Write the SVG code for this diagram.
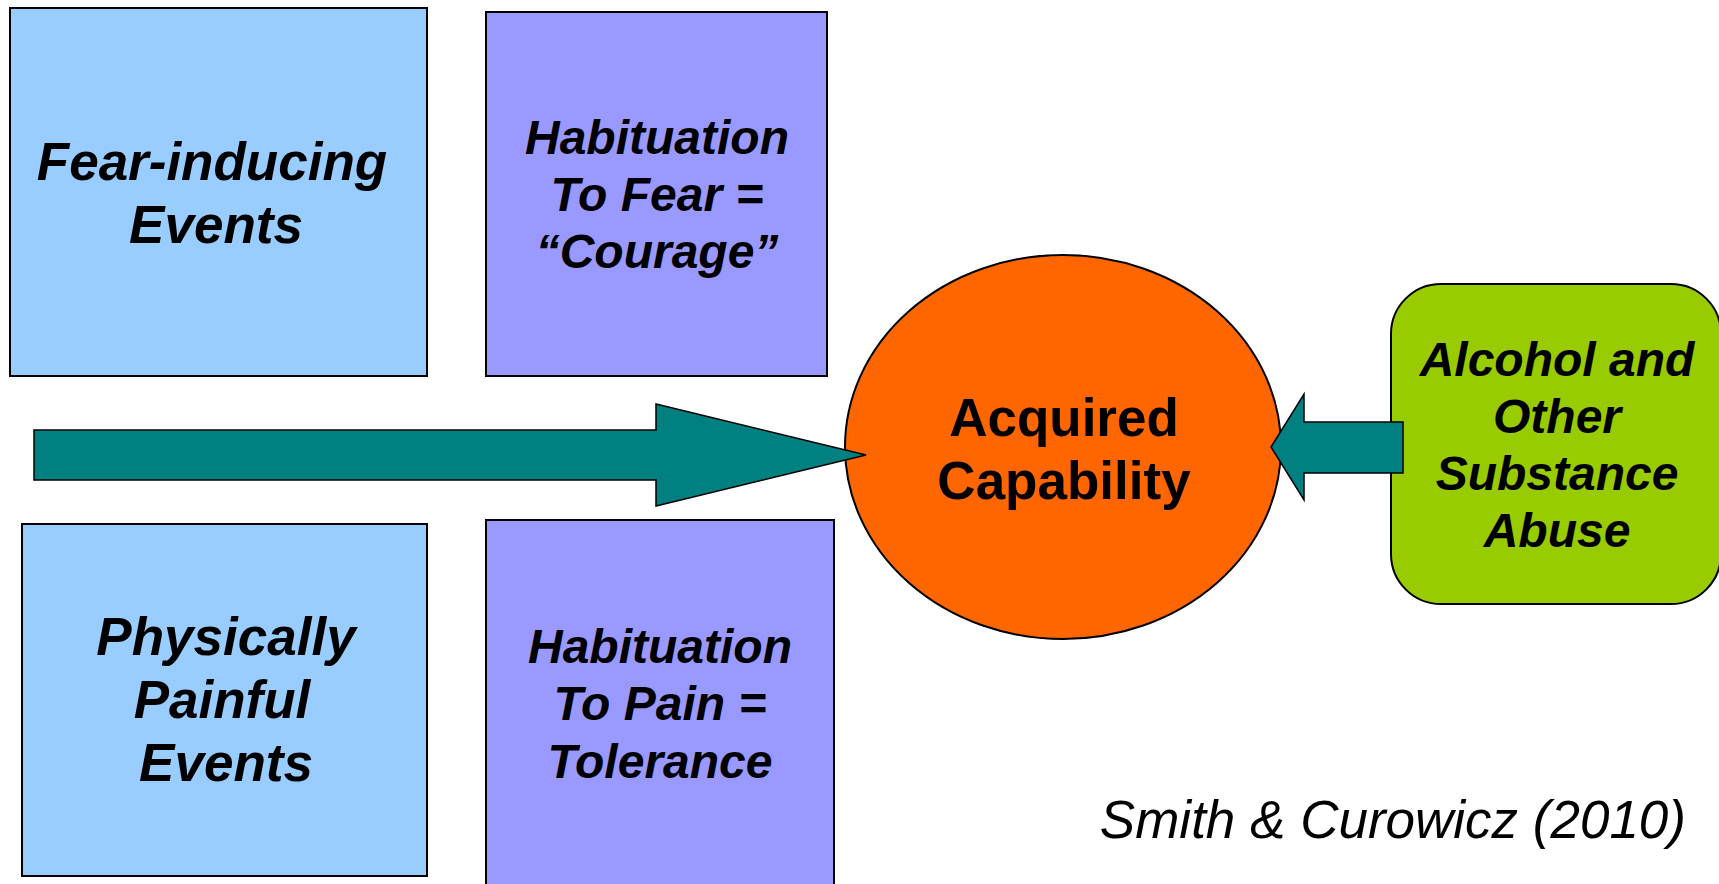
<svg xmlns="http://www.w3.org/2000/svg" width="1719" height="884" viewBox="0 0 1719 884">
<style>
.box{stroke:#000;stroke-width:2}
.blue{fill:#99CCFF}
.purple{fill:#9999FF}
.t{font-family:"Liberation Sans",Arial,sans-serif;font-weight:bold;font-style:italic;fill:#000;text-anchor:middle}
.big{font-size:53px}
.mid{font-size:48px}
.arrow{fill:#008080;stroke:#000;stroke-width:1.5;stroke-linejoin:miter}
</style>
<rect width="1719" height="884" fill="#fff"/>
<g id="fear-events">
<rect class="box blue" x="10" y="8" width="417" height="368"/>
<text class="t big" x="212" y="180">Fear-inducing</text>
<text class="t big" x="216" y="243">Events</text>
</g>
<g id="habituation-fear">
<rect class="box purple" x="486" y="12" width="341" height="364"/>
<text class="t mid" x="657" y="154">Habituation</text>
<text class="t mid" x="657" y="211">To Fear =</text>
<text class="t mid" x="657" y="268">“Courage”</text>
</g>
<g id="painful-events">
<rect class="box blue" x="22" y="524" width="405" height="352"/>
<text class="t big" x="226" y="655">Physically</text>
<text class="t big" x="222" y="718">Painful</text>
<text class="t big" x="226" y="781">Events</text>
</g>
<g id="habituation-pain">
<rect class="box purple" x="486" y="520" width="348" height="370"/>
<text class="t mid" x="660" y="663">Habituation</text>
<text class="t mid" x="660" y="720">To Pain =</text>
<text class="t mid" x="660" y="778">Tolerance</text>
</g>
<g id="acquired-capability">
<ellipse cx="1063" cy="447" rx="218" ry="192" fill="#FF6600" stroke="#000" stroke-width="2"/>
<text class="t big" x="1064" y="436" style="font-style:normal">Acquired</text>
<text class="t big" x="1064" y="499" style="font-style:normal">Capability</text>
</g>
<g id="substance-abuse">
<rect x="1391" y="284" width="330" height="320" rx="50" ry="50" fill="#99CC00" stroke="#000" stroke-width="2"/>
<text class="t mid" x="1557" y="376">Alcohol and</text>
<text class="t mid" x="1557" y="433">Other</text>
<text class="t mid" x="1557" y="490">Substance</text>
<text class="t mid" x="1557" y="547">Abuse</text>
</g>
<g id="connectors">
<polygon class="arrow" points="34,430 656,430 656,404 866,455 656,506 656,480 34,480"/>
<polygon class="arrow" points="1403,422 1304,422 1304,394 1271,447 1304,500 1304,473 1403,473"/>
</g>
<g id="citation">
<text x="1686" y="838" font-family="Liberation Sans, Arial, sans-serif" font-style="italic" font-size="53" text-anchor="end" fill="#000">Smith &amp; Curowicz (2010)</text>
</g>
</svg>
